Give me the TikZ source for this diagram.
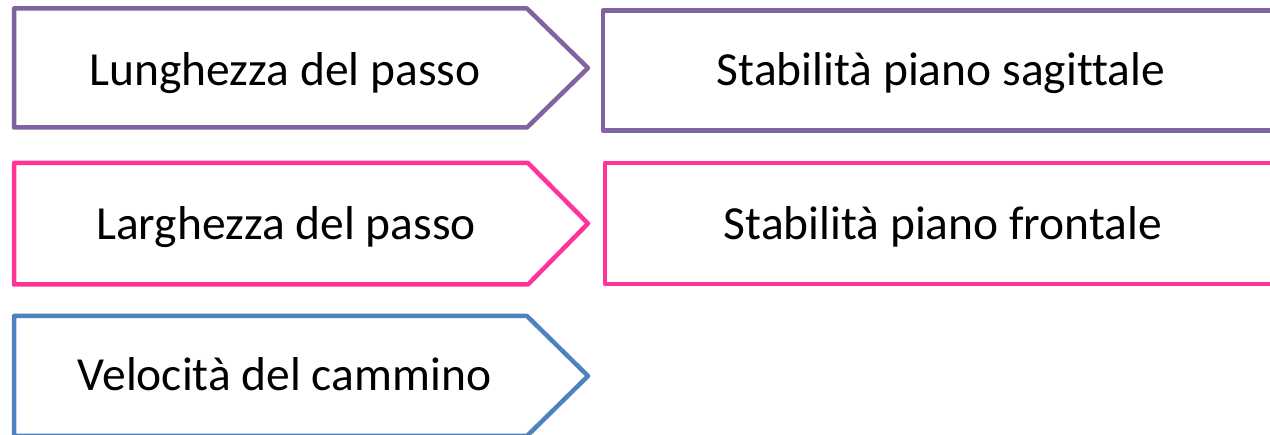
\documentclass[tikz,border=0pt]{standalone}
\usepackage{fontspec}
\setmainfont[Ligatures=NoCommon]{Carlito}
\definecolor{cpurple}{HTML}{8064A2}
\definecolor{cpink}{HTML}{FF3399}
\definecolor{cblue}{HTML}{4F81BD}
\begin{document}
\begin{tikzpicture}[x=1pt,y=-1pt,
  shapeline/.style={line width=4.5pt,line join=round},
  label/.style={anchor=base,inner sep=0pt,font=\fontsize{47.5}{56}\selectfont}]
\useasboundingbox (0,0) rectangle (1270,435);
\clip (0,0) rectangle (1270,435);
% chevrons (left column)
\draw[shapeline,cpurple] (14,8.5) -- (527,8.5) -- (588,68) -- (527,127.5) -- (14,127.5) -- cycle;
\draw[shapeline,cpink] (14,163) -- (528,163) -- (588,223.5) -- (528,284.5) -- (14,284.5) -- cycle;
\draw[shapeline,cblue] (14,316) -- (527,316) -- (588,376) -- (527,436) -- (14,436) -- cycle;
% rectangles (right column), running past the right edge
\draw[shapeline,cpurple] (1300,10.5) -- (603,10.5) -- (603,130.5) -- (1300,130.5);
\draw[shapeline,cpink] (1300,163) -- (605,163) -- (605,284) -- (1300,284);
% texts
\node[label] (lung) at (285,86) {Lunghezza del passo};
\node[label] (larg) at (286,240) {Larghezza del passo};
\node[label] (velo) at (284.5,391) {Velocità del cammino};
\node[label] (sagi) at (941,86) {Stabilità piano sagittale};
\node[label] (fron) at (943,240) {Stabilità piano frontale};
\end{tikzpicture}
\end{document}
